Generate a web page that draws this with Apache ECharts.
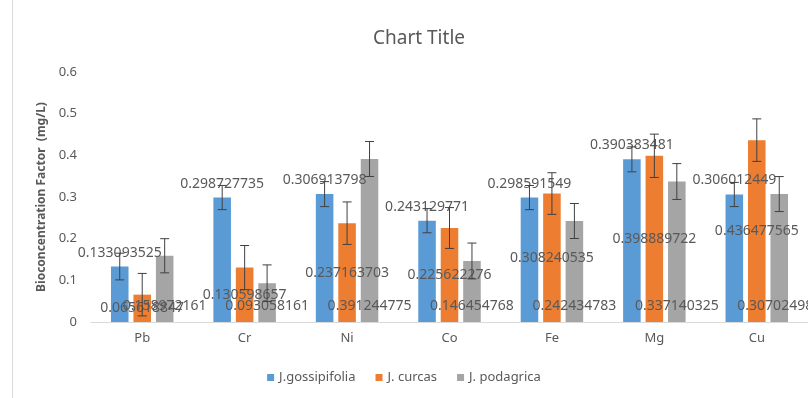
<!DOCTYPE html>
<html><head><meta charset="utf-8">
<script src="https://cdn.jsdelivr.net/npm/echarts@6/dist/echarts.min.js"></script>
<style>html,body{margin:0;padding:0;background:#fff;}#c{width:808px;height:398px;}</style>
</head><body><div id="c"></div>
<script>
var categories = ['Pb', 'Cr', 'Ni', 'Co', 'Fe', 'Mg', 'Cu'];
var seriesNames = ['J.gossipifolia', 'J. curcas', 'J. podagrica'];
var gossipifolia = [0.133093525, 0.298727735, 0.306913798, 0.243129771, 0.298591549, 0.390383481, 0.306012449];
var curcas = [0.065618847, 0.130598657, 0.237163703, 0.225622276, 0.308240535, 0.398889722, 0.436477565];
var podagrica = [0.158972161, 0.093058161, 0.391244775, 0.146454768, 0.242434783, 0.337140325, 0.307024984];
var errGossipifolia = [0.032, 0.029, 0.030, 0.029, 0.029, 0.030, 0.029];
var errCurcas = [0.051, 0.053, 0.051, 0.049, 0.050, 0.052, 0.051];
var errPodagrica = [0.041, 0.044, 0.042, 0.043, 0.042, 0.043, 0.042];
var yTicks = [0, 0.1, 0.2, 0.3, 0.4, 0.5, 0.6];

var colors = ['#5B9BD5', '#ED7D31', '#A5A5A5'];
var values = [gossipifolia, curcas, podagrica];
var errors = [errGossipifolia, errCurcas, errPodagrica];
var catGap = 0.39, barGap = 0.28;
var labelPos = [
  {position: 'top', distance: 7},
  {position: 'inside'},
  {position: 'insideBottom', distance: 9}
];
var font = '"Noto Sans", "Open Sans", sans-serif';
var series = [];
values.forEach(function (v, i) {
  series.push({
    name: seriesNames[i], type: 'bar', data: v,
    barCategoryGap: (catGap * 100) + '%', barGap: (barGap * 100) + '%',
    itemStyle: {color: colors[i]},
    label: Object.assign({show: true, color: '#595959', fontSize: 14, fontFamily: font,
      formatter: function (p) { return String(p.value); }}, labelPos[i]),
    z: 2
  });
});
values.forEach(function (v, i) {
  var data = v.map(function (val, k) { return [k, val, errors[i][k]]; });
  series.push({
    name: 'err' + i, type: 'custom', data: data, z: 5, silent: true,
    renderItem: function (params, api) {
      var k = api.value(0), val = api.value(1), e = api.value(2);
      var band = api.size([1, 0])[0];
      var bw = band * (1 - catGap) / (3 + 2 * barGap);
      var off = (i - 1) * bw * (1 + barGap);
      var top = api.coord([k, val + e]);
      var bot = api.coord([k, val - e]);
      var x = top[0] + off, cap = 4.5;
      var st = {stroke: '#404040', lineWidth: 1};
      return {type: 'group', children: [
        {type: 'line', shape: {x1: x, y1: top[1], x2: x, y2: bot[1]}, style: st},
        {type: 'line', shape: {x1: x - cap, y1: top[1], x2: x + cap, y2: top[1]}, style: st},
        {type: 'line', shape: {x1: x - cap, y1: bot[1], x2: x + cap, y2: bot[1]}, style: st}
      ]};
    }
  });
});

var chart = echarts.init(document.getElementById('c'));
chart.setOption({
  animation: false,
  backgroundColor: '#fff',
  title: {text: 'Chart Title', left: 414, top: 24, textAlign: 'center',
    textStyle: {color: '#595959', fontSize: 19, fontWeight: 'normal', fontFamily: font}},
  legend: {data: seriesNames, bottom: 9, left: 'center', icon: 'rect', itemWidth: 7, itemHeight: 7,
    itemGap: 20, textStyle: {color: '#595959', fontSize: 13, fontFamily: font}},
  grid: {left: 91, width: 719, top: 72, bottom: 76},
  xAxis: {type: 'category', data: categories,
    axisLine: {lineStyle: {color: '#d9d9d9'}}, axisTick: {show: false},
    axisLabel: {color: '#595959', fontSize: 13, fontFamily: font, margin: 10}},
  yAxis: {type: 'value', min: yTicks[0], max: yTicks[yTicks.length - 1], interval: 0.1,
    name: 'Bioconcentration Factor  (mg/L)', nameLocation: 'middle', nameGap: 42,
    nameTextStyle: {color: '#595959', fontSize: 12, fontWeight: 'bold', fontFamily: font},
    axisLine: {show: false}, axisTick: {show: false}, splitLine: {show: false},
    axisLabel: {color: '#595959', fontSize: 13, fontFamily: font, margin: 14}},
  graphic: [{type: 'line', shape: {x1: 12.5, y1: 0, x2: 12.5, y2: 398}, style: {stroke: '#d9d9d9', lineWidth: 1}}],
  series: series
});
</script></body></html>
